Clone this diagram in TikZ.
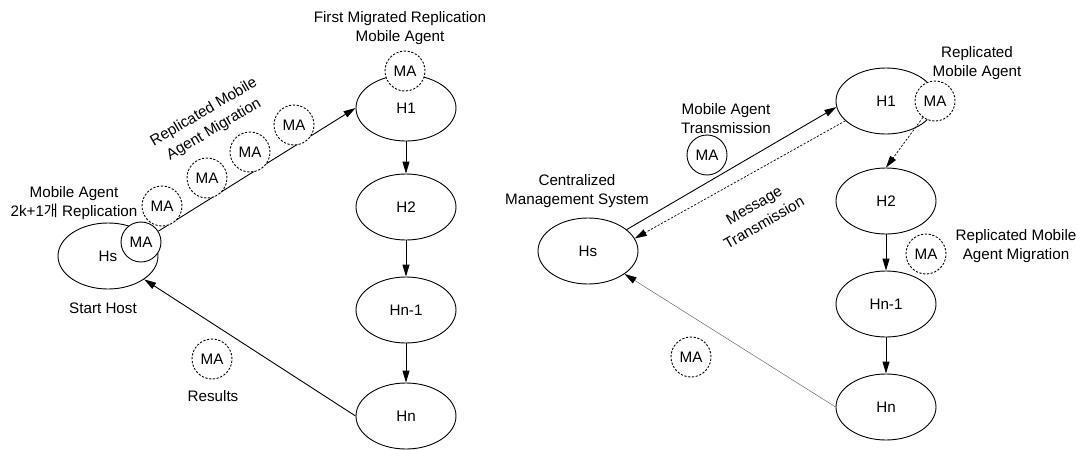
\documentclass[tikz,border=0pt]{standalone}
\usepackage{fontspec}
\setmainfont{Liberation Sans}
\newfontfamily\krfont{Noto Sans CJK KR}
\usetikzlibrary{arrows.meta,shapes.geometric}

\begin{document}
\begin{tikzpicture}[x=1pt,y=-1pt,
  font=\fontsize{15.2}{19}\selectfont,
  host/.style={draw, ellipse, line width=0.9pt, minimum width=100pt, minimum height=66pt, inner sep=0pt},
  agent/.style={draw, circle, fill=white, line width=0.9pt, minimum size=40pt, inner sep=0pt},
  dagent/.style={agent, dash pattern=on 2.2pt off 1.6pt},
  lbl/.style={align=center, inner sep=0pt},
  tilted/.style={lbl, font=\fontsize{15.2}{20}\selectfont},
  flow/.style={-{Triangle[length=12pt,width=7pt]}, line width=0.9pt},
  msg/.style={dash pattern=on 2.2pt off 1.6pt, line width=0.7pt},
  faint/.style={-{Triangle[length=12pt,width=7pt,color=black]}, line width=0.5pt, draw=black!60}
]
\useasboundingbox (0,0) rectangle (1077,450);

% ---------- replicated agents travelling along the host chain ----------
\node[host] (hs) at (108,256) {Hs};
\node[agent] (hsma) at (141,242) {MA};
\node[host] (h1) at (406,108) {H1};
\node[dagent] (h1ma) at (405,71) {MA};
\node[host] (h2) at (406,207) {H2};
\node[host] (hn1) at (406,310) {Hn-1};
\node[host] (hn) at (406,416) {Hn};

\draw[flow] (hsma) -- (h1.west);
\draw[flow] (h1) -- (h2);
\draw[flow] (h2) -- (hn1);
\draw[flow] (hn1) -- (hn);
\draw[flow] (hn.west) -- (hs);

\node[dagent] (m1) at (162,206) {MA};
\node[dagent] (m2) at (207,178) {MA};
\node[dagent] (m3) at (250,152) {MA};
\node[dagent] (m4) at (294,125) {MA};
\node[dagent] (mres) at (212,359) {MA};

\node[lbl] (tstart) at (103,308) {Start Host};
\node[lbl] (tres) at (213,396) {Results};
\node[lbl] (trep) at (74,203.5) {Mobile Agent\\2k+1{\krfont 개} Replication};
\node[lbl] (tfirst) at (400,28.5) {First Migrated Replication\\Mobile Agent};
\node[tilted, rotate=30.5] (tmig) at (209,121) {Replicated Mobile\\Agent Migration};

% ---------- centralized management of the replicated agents ----------
\node[host] (hsr) at (588,251) {Hs};
\node[host] (h1r) at (886,101) {H1};
\node[dagent] (h1rma) at (935,101) {MA};
\node[host] (h2r) at (886,201) {H2};
\node[host] (hn1r) at (886,304) {Hn-1};
\node[host] (hnr) at (886,407) {Hn};

\draw[flow] (hsr.29) -- (h1r.187);
\draw[flow, msg] (h1r.206) -- (hsr.15);
\draw[flow, msg] (h1rma) -- (h2r.north);
\draw[flow] (h2r) -- (hn1r);
\draw[flow] (hn1r) -- (hnr);
\draw[faint] (hnr.west) -- (hsr);

\node[agent] (mtx) at (707,155) {MA};
\node[dagent] (mmig) at (926,254) {MA};
\node[dagent] (mret) at (691,357) {MA};

\node[lbl] (tcms) at (577,191) {Centralized\\Management System};
\node[lbl] (ttx) at (726,118.5) {Mobile Agent\\Transmission};
\node[tilted, rotate=30] (tmsg) at (759,214) {Message\\Transmission};
\node[lbl] (trma) at (977,63) {Replicated\\Mobile Agent};
\node[lbl] (trmig) at (1016,246.5) {Replicated Mobile\\Agent Migration};
\end{tikzpicture}
\end{document}
